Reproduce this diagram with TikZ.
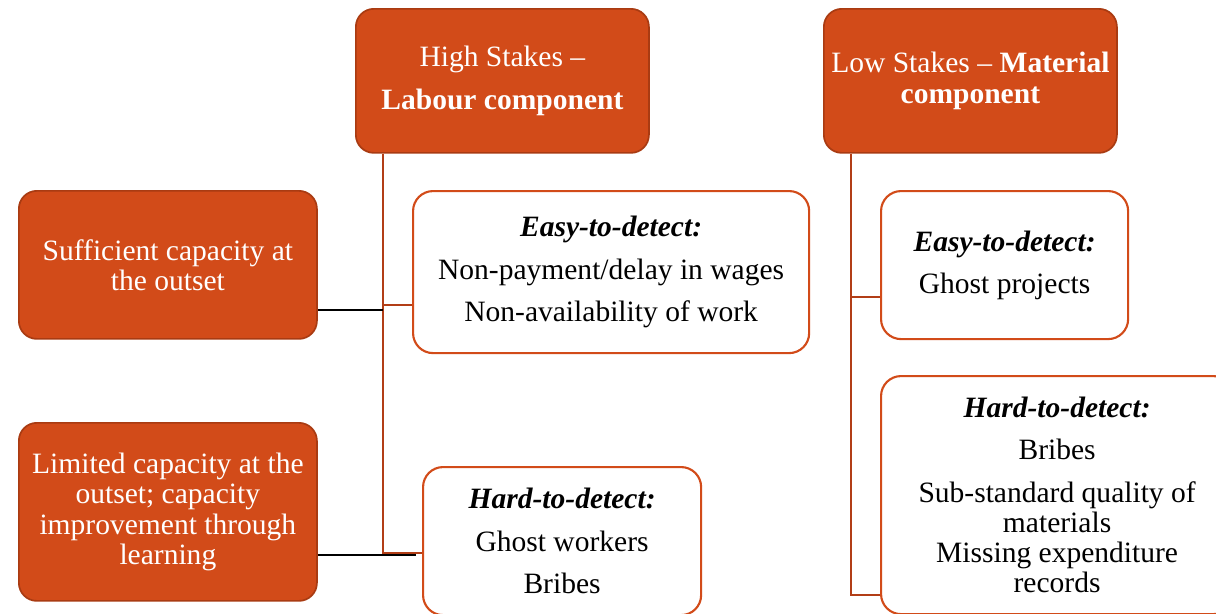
\documentclass[tikz,border=0pt]{standalone}
\usepackage{fontspec}
\setmainfont{Liberation Serif}
\usetikzlibrary{positioning}

\definecolor{rust}{HTML}{D24B19}
\definecolor{rustdark}{HTML}{A93B12}
\definecolor{rustline}{HTML}{B23E17}

\begin{document}
\begin{tikzpicture}[
  x=0.025cm, y=-0.025cm,
  every node/.style={font=\fontsize{21}{21.5}\selectfont, align=center, inner sep=0pt, anchor=north west},
  stake/.style={draw=rustdark, line width=1.2pt, fill=rust, text=white, rounded corners=0.45cm},
  caseitem/.style={draw=rust, line width=1.5pt, fill=white, rounded corners=0.5cm},
  link/.style={rustline, line width=2pt},
  wire/.style={black, line width=1.4pt}
]
  \useasboundingbox (0,0) rectangle (1216,613);
  \clip (0,0) rectangle (1216,613);

  % stakes
  \node[stake, minimum width=7.325cm, minimum height=3.6cm] (high) at (355,8)
    {High Stakes --\\[8.5pt]\textbf{Labour component}};
  \node[stake, minimum width=7.325cm, minimum height=3.6cm] (low) at (823,8)
    {Low Stakes -- \textbf{Material}\\\textbf{component}};

  % capacity
  \node[stake, minimum width=7.45cm, minimum height=3.7cm] (suff) at (18,190)
    {Sufficient capacity at\\the outset};
  \node[stake, minimum width=7.45cm, minimum height=4.45cm] (lim) at (18,422)
    {Limited capacity at the\\outset; capacity\\improvement through\\learning};

  % labour cases
  \node[caseitem, minimum width=9.9cm, minimum height=4.05cm] (leasy) at (412,190)
    {\textbf{\textit{Easy-to-detect:}}\\[8.5pt]Non-payment/delay in wages\\[8.5pt]Non-availability of work};
  \node[caseitem, minimum width=6.95cm, minimum height=3.7cm] (lhard) at (422,466)
    {\textbf{\textit{Hard-to-detect:}}\\[8.5pt]Ghost workers\\[8.5pt]Bribes};

  % material cases
  \node[caseitem, minimum width=6.175cm, minimum height=3.7cm] (measy) at (880,190)
    {\textbf{\textit{Easy-to-detect:}}\\[8.5pt]Ghost projects};
  \node[caseitem, minimum width=8.8cm, minimum height=5.95cm] (mhard) at (880,375)
    {\textbf{\textit{Hard-to-detect:}}\\[8.5pt]Bribes\\[8.5pt]Sub-standard quality of\\materials\\Missing expenditure\\records};

  \coordinate (ja) at (383,305);
  \coordinate (jb) at (383,553);
  \coordinate (jc) at (851,297);
  \coordinate (jd) at (851,595);

  \draw[link] (high.south -| ja) -- (jb) -- (jb -| lhard.west);
  \draw[link] (ja) -- (ja -| leasy.west);
  \draw[link] (low.south -| jc) -- (jd) -- (jd -| mhard.west);
  \draw[link] (jc) -- (jc -| measy.west);

  \coordinate (wa) at (383,310);
  \coordinate (wb) at (416,555);
  \draw[wire] (suff.east |- wa) -- (wa);
  \draw[wire] (lim.east |- wb) -- (wb);
\end{tikzpicture}
\end{document}
